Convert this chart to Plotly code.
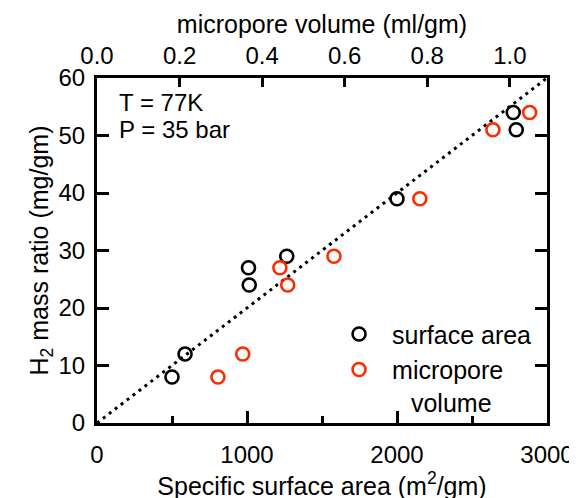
import plotly.graph_objects as go

# Data
h2_mass = [8, 12, 27, 24, 29, 39, 54, 51]
surface_area = [500, 587, 1010, 1015, 1265, 2000, 2775, 2795]
micropore_volume = [0.293, 0.353, 0.443, 0.462, 0.574, 0.782, 1.048, 0.959]
guide_x = [0, 3000]
guide_y = [0, 60]

FONT = "Liberation Sans, Arial, sans-serif"
RED = "#ff2a00"

fig = go.Figure()
fig.add_trace(go.Scatter(x=guide_x, y=guide_y, mode="lines",
                         line=dict(color="black", width=3, dash="3px,4.5px"),
                         showlegend=False, hoverinfo="skip"))
fig.add_trace(go.Scatter(x=surface_area, y=h2_mass, mode="markers", name="surface area",
                         marker=dict(symbol="circle-open", size=13, color="black",
                                     line=dict(width=2.6, color="black"))))
fig.add_trace(go.Scatter(x=micropore_volume, y=h2_mass, mode="markers", xaxis="x2",
                         name="micropore<br>\u00a0\u00a0\u2009volume",
                         marker=dict(symbol="circle-open", size=13, color=RED,
                                     line=dict(width=2.6, color=RED))))

fig.update_layout(
    width=577, height=498,
    margin=dict(l=89, r=38, t=70, b=83),
    paper_bgcolor="white", plot_bgcolor="white",
    font=dict(family=FONT, size=24, color="black"),
    xaxis=dict(range=[0, 3000], tickvals=[0, 1000, 2000, 3000], ticks="inside", ticklen=12,
               tickwidth=2.5, tickcolor="black", showline=True, linewidth=3, linecolor="black",
               mirror=False, showgrid=False, zeroline=False, ticklabelstandoff=8, automargin=False,
               tickfont=dict(size=24),
               minor=dict(tickvals=[500, 1500, 2500], ticks="inside", ticklen=7,
                          tickwidth=2.5, tickcolor="black", showgrid=False),
               title=dict(text="Specific surface area (m<sup>2</sup>/gm)", standoff=11,
                          font=dict(size=25))),
    xaxis2=dict(range=[0, 1.09], overlaying="x", side="top", anchor="y",
                tickvals=[0, 0.2, 0.4, 0.6, 0.8, 1.0], ticktext=["0.0", "0.2", "0.4", "0.6", "0.8", "1.0"],
                ticks="inside", ticklen=9, tickwidth=2.5, tickcolor="black",
                showline=True, linewidth=3, linecolor="black", showgrid=False, zeroline=False,
                ticklabelstandoff=1, automargin=False, tickfont=dict(size=24),
                title=dict(text="micropore volume (ml/gm)", standoff=2, font=dict(size=25))),
    yaxis=dict(range=[0, 60], tickvals=[0, 10, 20, 30, 40, 50, 60], ticks="inside", ticklen=12,
               tickwidth=2.5, tickcolor="black", showline=True, linewidth=3, linecolor="black",
               mirror="ticks", showgrid=False, zeroline=False, ticklabelstandoff=4, automargin=False,
               tickfont=dict(size=24),
               title=dict(text="H<sub>2</sub> mass ratio (mg/gm)", standoff=3, font=dict(size=25))),
    legend=dict(x=0.509, y=0.324, xanchor="left", yanchor="top", bgcolor="rgba(0,0,0,0)",
                font=dict(size=25), valign="top", tracegroupgap=0, itemwidth=56),
    annotations=[
        dict(text="T = 77K", xref="paper", yref="paper", x=0.045, y=0.928, xanchor="left",
             yanchor="middle", showarrow=False, font=dict(size=24)),
        dict(text="P = 35 bar", xref="paper", yref="paper", x=0.045, y=0.85, xanchor="left",
             yanchor="middle", showarrow=False, font=dict(size=24)),
    ],
)

fig.write_html("out.html")
